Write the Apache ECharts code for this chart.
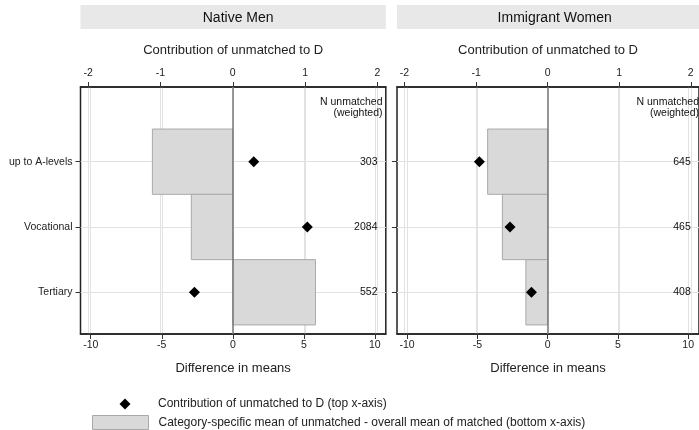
<!DOCTYPE html>
<html>
<head>
<meta charset="utf-8">
<script src="https://cdn.jsdelivr.net/npm/echarts@6/dist/echarts.min.js"></script>
<style>
  html, body { margin: 0; padding: 0; background: #fff; }
  #chart { width: 699px; height: 430px; }
</style>
</head>
<body>
<div id="chart"></div>
<script>
// panels and rows
var panelTitles = ['Native Men', 'Immigrant Women'];
var categories = ['up to A-levels', 'Vocational', 'Tertiary'];

// Native Men
var meanDiffMen = [-5.66, -2.92, 5.82];
var contribMen = [0.29, 1.03, -0.53];
var nUnmatchedMen = [303, 2084, 552];

// Immigrant Women
var meanDiffWomen = [-4.27, -3.22, -1.55];
var contribWomen = [-0.954, -0.526, -0.226];
var nUnmatchedWomen = [645, 465, 408];

var topTicks = [-2, -1, 0, 1, 2];
var bottomTicks = [-10, -5, 0, 5, 10];
var rowTicks = [1, 2, 3];

var LEG_DIAMOND = 'Contribution of unmatched to D (top x-axis)';
var LEG_BAR = 'Category-specific mean of unmatched - overall mean of matched (bottom x-axis)';

var FONT = 'Liberation Sans, Arial, sans-serif';
var panelData = [
    { diff: meanDiffMen, contrib: contribMen, n: nUnmatchedMen },
    { diff: meanDiffWomen, contrib: contribWomen, n: nUnmatchedWomen }
];
var panelLeft = [80.5, 397];
var panelWidth = 305.3;
var gridTop = 87, gridHeight = 247;

var chart = echarts.init(document.getElementById('chart'), null, { renderer: 'canvas' });

var grids = [], xAxes = [], yAxes = [], series = [], titles = [], graphics = [];

panelData.forEach(function (pd, p) {
    var left = panelLeft[p];
    grids.push({
        left: left, top: gridTop, width: panelWidth, height: gridHeight,
        show: true, backgroundColor: '#fff', borderColor: '#222', borderWidth: 1.5,
        containLabel: false
    });
    // bottom axis: difference in means
    xAxes.push({
        type: 'value', gridIndex: p, position: 'bottom', min: -10.72, max: 10.77,
        name: 'Difference in means', nameLocation: 'middle', nameGap: 28,
        nameTextStyle: { fontSize: 13, color: '#222', fontFamily: FONT },
        axisLine: { show: true, onZero: false, lineStyle: { color: '#222', width: 1.5 } },
        axisTick: { show: true, inside: false, length: 5, customValues: bottomTicks, lineStyle: { color: '#333', width: 1 } },
        axisLabel: { customValues: bottomTicks, fontSize: 10.5, color: '#222', margin: 6, fontFamily: FONT },
        splitLine: { show: true, lineStyle: { color: '#e2e2e2', width: 1 } }
    });
    // top axis: contribution to D
    xAxes.push({
        type: 'value', gridIndex: p, position: 'top', min: -2.105, max: 2.115,
        name: 'Contribution of unmatched to D', nameLocation: 'middle', nameGap: 30.5,
        nameTextStyle: { fontSize: 13, color: '#222', fontFamily: FONT },
        axisLine: { show: true, onZero: false, lineStyle: { color: '#222', width: 1.5 } },
        axisTick: { show: true, inside: false, length: 5, customValues: topTicks, lineStyle: { color: '#333', width: 1 } },
        axisLabel: { customValues: topTicks, fontSize: 10.5, color: '#222', margin: 8, fontFamily: FONT },
        splitLine: { show: true, lineStyle: { color: '#e2e2e2', width: 1 } }
    });
    yAxes.push({
        type: 'value', gridIndex: p, inverse: true, min: -0.144, max: 3.639,
        axisLine: { show: false, onZero: false },
        axisTick: { show: true, length: 5, customValues: rowTicks, lineStyle: { color: '#333' } },
        axisLabel: {
            show: p === 0, customValues: rowTicks, fontSize: 10.5, color: '#222', margin: 8, fontFamily: FONT,
            formatter: function (v) { return categories[v - 1] || ''; }
        },
        splitLine: { show: true, lineStyle: { color: '#e2e2e2', width: 1 } }
    });

    // bars through bottom axis
    series.push({
        name: LEG_BAR, type: 'custom', xAxisIndex: 2 * p, yAxisIndex: p,
        silent: true, z: 2,
        itemStyle: { color: '#d9d9d9', borderColor: '#a9a9a9', borderWidth: 1 },
        data: pd.diff.map(function (v, i) { return [v, i + 1]; }),
        renderItem: function (params, api) {
            var v = api.value(0), row = api.value(1);
            var p0 = api.coord([0, row]);
            var p1 = api.coord([v, row]);
            var h = api.size([0, 1])[1];
            return {
                type: 'rect',
                shape: { x: Math.min(p0[0], p1[0]), y: p0[1] - h / 2, width: Math.abs(p1[0] - p0[0]), height: h },
                style: { fill: '#d9d9d9', stroke: '#a9a9a9', lineWidth: 1 }
            };
        }
    });
    // diamonds through top axis
    series.push({
        name: LEG_DIAMOND, type: 'scatter', xAxisIndex: 2 * p + 1, yAxisIndex: p,
        symbol: 'diamond', symbolSize: 11, silent: true, z: 4,
        itemStyle: { color: '#000', opacity: 1 },
        data: pd.contrib.map(function (v, i) { return [v, i + 1]; }),
        markLine: {
            silent: true, symbol: 'none', label: { show: false }, z: 3,
            lineStyle: { color: '#777', width: 1.5, type: 'solid' },
            data: [{ xAxis: 0 }]
        }
    });
    // N unmatched labels, right aligned at top-axis value 2
    series.push({
        name: 'n' + p, type: 'custom', xAxisIndex: 2 * p + 1, yAxisIndex: p,
        silent: true, z: 5,
        data: pd.n.map(function (v, i) { return [2, i + 1, v]; }),
        renderItem: function (params, api) {
            var pt = api.coord([api.value(0), api.value(1)]);
            return {
                type: 'text',
                x: pt[0], y: pt[1],
                style: {
                    text: String(api.value(2)), align: 'right', verticalAlign: 'middle',
                    fill: '#111', font: '10.5px ' + FONT
                }
            };
        }
    });

    graphics.push({
        type: 'rect', z: -1,
        shape: { x: left, y: 5, width: panelWidth, height: 24 },
        style: { fill: '#e8e8e8' }
    });
    titles.push({
        text: panelTitles[p], left: left + panelWidth / 2, top: 6, textAlign: 'center',
        textStyle: { fontSize: 14, fontWeight: 'normal', color: '#111', fontFamily: FONT }
    });
    titles.push({
        text: 'N unmatched\n(weighted)', left: left + panelWidth * (4.105 / 4.22), top: 92, textAlign: 'right',
        textStyle: { fontSize: 10.5, fontWeight: 'normal', color: '#111', lineHeight: 11, fontFamily: FONT, align: 'right' }
    });
});

var option = {
    animation: false,
    backgroundColor: '#fff',
    textStyle: { fontFamily: FONT },
    title: titles,
    graphic: graphics,
    grid: grids,
    xAxis: xAxes,
    yAxis: yAxes,
    legend: [
        {
            data: [{ name: LEG_DIAMOND, icon: 'diamond', itemStyle: { color: '#000' } }],
            left: 119.5, top: 398, padding: 0, itemWidth: 11, itemHeight: 11,
            selectedMode: false,
            textStyle: { fontSize: 12, color: '#222', fontFamily: FONT, padding: [0, 0, 0, 22.5] }
        },
        {
            data: [{ name: LEG_BAR, icon: 'rect', itemStyle: { color: '#d9d9d9', borderColor: '#a9a9a9', borderWidth: 1 } }],
            left: 92, top: 415, padding: 0, itemWidth: 56, itemHeight: 14,
            selectedMode: false,
            textStyle: { fontSize: 12, color: '#222', fontFamily: FONT, padding: [0, 0, 0, 5] }
        }
    ],
    series: series
};

chart.setOption(option);
</script>
</body>
</html>
